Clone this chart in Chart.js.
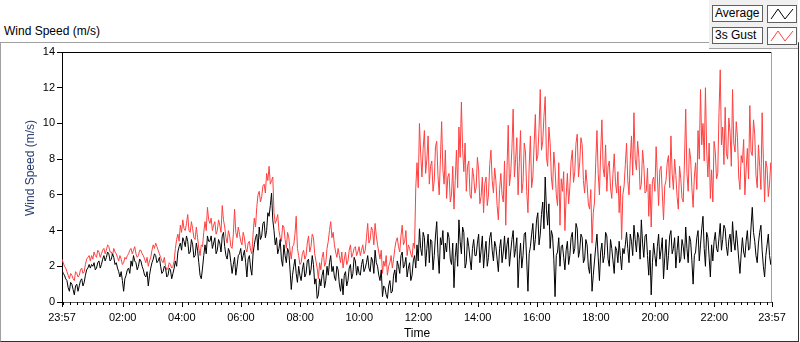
<!DOCTYPE html>
<html>
<head>
<meta charset="utf-8">
<script src="https://cdn.jsdelivr.net/npm/chart.js@4.4.0/dist/chart.umd.min.js"></script>
<style>
  body { margin: 0; width: 800px; height: 342px; background: #fff; position: relative; overflow: hidden;
         font-family: "Liberation Sans", Arial, sans-serif; }
  #frame { position: absolute; left: 0; top: 42px; width: 799px; height: 300px; box-sizing: border-box;
           border-top: 1px solid #a0a0a0; border-left: 1px solid #a0a0a0;
           border-right: 1px solid #303030; border-bottom: 1px solid #303030; }
  #title { position: absolute; left: 4px; top: 24px; font-size: 12px; color: #000; }
  #ytitle { position: absolute; left: 30px; top: 168px; font-size: 12px; color: #24396e; white-space: nowrap;
            transform: translate(-50%, -50%) rotate(-90deg); z-index: 2; }
  #legend { position: absolute; left: 709px; top: 0; width: 89px; height: 49px; background: #f0f0f0;
            border-bottom: 1px solid #a0a0a0; box-sizing: border-box; }
  .lg-name { position: absolute; left: 3px; width: 51px; height: 17px; box-sizing: border-box;
             border: 1px solid #606060; background: #fcfcfc; font-size: 12px; line-height: 15px; padding-left: 2px; }
  .lg-swatch { position: absolute; left: 58px; width: 30px; height: 18px; box-sizing: border-box;
               border: 1px solid #606060; background: #fff; }
  canvas { position: absolute; left: 0; top: 0; }
</style>
</head>
<body>
<div id="title">Wind Speed (m/s)</div>
<div id="frame"></div>
<div id="ytitle">Wind Speed (m/s)</div>
<div id="legend">
  <div class="lg-name" style="top:5px">Average</div>
  <div class="lg-swatch" style="top:5px"><svg width="28" height="16"><polyline points="3,13 10,3 17,13 25,3" fill="none" stroke="#000" stroke-width="1"/></svg></div>
  <div class="lg-name" style="top:27px">3s Gust</div>
  <div class="lg-swatch" style="top:27px"><svg width="28" height="16"><polyline points="3,13 10,3 17,13 25,3" fill="none" stroke="#ff4040" stroke-width="1"/></svg></div>
</div>
<canvas id="chart" width="800" height="342"></canvas>
<script>
// 2.5-minute samples from 23:57 to 23:57 next day, one row per hour
const avgSpeed = [
  1.8,1.6, 1.5,1.3, 1.2,0.8, 0.6,1.1, 1.0,0.7, 0.4,0.9, 1.0,0.6, 0.9,1.2, 1.3,0.9, 1.1,1.5, 1.8,1.9, 2.1,1.9,
  2.1,2.0, 2.2,1.8, 1.9,2.2, 2.3,1.9, 2.1,2.4, 2.6,2.3, 2.5,2.8, 2.7,2.3, 2.4,2.7, 2.5,2.1, 2.2,1.9, 1.7,1.4,
  1.7,1.2, 0.6,1.3, 1.5,1.8, 1.9,1.6, 2.3,2.0, 2.6,2.3, 2.2,1.8, 2.0,2.4, 2.3,2.0, 1.8,1.5, 1.4,1.7, 0.9,1.5,
  1.9,2.2, 2.4,2.7, 2.6,2.2, 2.3,2.5, 2.0,1.6, 1.7,2.0, 1.9,1.4, 1.5,1.9, 1.8,1.3, 1.6,1.9, 2.3,2.0, 2.8,3.1,
  3.3,2.9, 3.6,3.4, 3.1,3.7, 3.4,2.7, 2.8,3.5, 3.2,2.5, 2.6,3.3, 2.9,2.2, 1.5,1.3, 1.9,2.6, 3.2,2.7, 3.7,3.4,
  3.4,3.7, 3.0,3.3, 3.6,2.7, 2.9,3.5, 3.3,2.8, 3.7,3.9, 3.1,2.6, 2.4,3.0, 2.8,2.2, 1.6,2.1, 2.5,1.5, 2.0,2.6,
  2.7,3.0, 2.3,2.6, 2.9,2.2, 1.4,2.4, 2.6,1.9, 1.5,2.7, 3.2,3.6, 3.8,2.9, 4.2,3.5, 3.7,4.4, 4.5,3.6, 4.0,5.0,
  4.8,5.4, 6.1,4.6, 4.0,3.2, 3.6,2.7, 3.0,3.5, 2.4,2.0, 3.2,2.6, 2.2,3.0, 2.8,1.8, 0.7,1.5, 2.0,2.4, 1.6,1.1,
  2.0,1.5, 1.2,1.8, 2.2,1.4, 1.6,2.3, 2.4,1.5, 1.8,2.6, 2.1,1.0, 1.3,0.2, 0.4,1.3, 0.9,1.5, 1.8,0.8, 1.2,2.0,
  1.5,2.2, 2.6,1.7, 2.0,1.4, 1.2,2.0, 1.8,1.0, 0.6,1.3, 0.4,1.5, 1.7,0.9, 1.2,1.9, 2.1,1.3, 1.6,2.5, 2.3,1.5,
  2.0,1.6, 1.5,2.1, 2.4,1.7, 1.9,2.2, 2.6,1.9, 1.7,2.5, 2.3,1.6, 2.9,2.2, 2.0,1.5, 1.2,1.8, 0.3,0.9, 0.8,0.4,
  0.2,0.9, 1.2,0.5, 0.6,1.5, 1.8,1.1, 2.3,2.0, 1.6,2.6, 2.8,1.9, 2.1,2.5, 1.4,1.9, 2.2,1.2, 1.5,2.3, 2.6,1.9,
  3.2,2.3, 4.1,3.0, 2.6,3.9, 3.6,2.0, 3.0,3.8, 2.2,3.5, 3.4,1.8, 2.6,3.7, 4.5,2.7, 1.6,3.6, 3.2,4.0, 2.4,3.3,
  2.8,3.9, 3.6,2.4, 2.1,3.3, 0.8,2.5, 3.3,2.0, 4.6,3.4, 2.7,4.2, 3.9,1.9, 2.2,3.6, 3.1,2.4, 1.8,3.0, 3.5,2.6,
  2.6,3.3, 3.8,2.2, 2.9,3.7, 1.9,2.8, 3.4,2.0, 2.5,3.6, 3.9,2.9, 2.3,3.4, 3.1,2.4, 1.7,3.0, 3.5,2.2, 2.8,3.7,
  2.4,3.2, 3.6,2.0, 2.8,3.5, 4.0,2.5, 3.0,3.6, 0.8,2.4, 3.3,1.9, 2.6,3.8, 3.9,2.3, 0.6,2.7, 3.1,3.8, 4.4,2.9,
  3.5,4.6, 5.0,3.2, 3.8,4.9, 5.6,4.1, 7.0,5.2, 4.3,5.5, 3.0,4.0, 3.7,2.4, 0.3,2.6, 2.8,3.6, 2.0,3.1, 3.2,2.5,
  1.8,2.9, 3.4,2.1, 2.6,3.6, 3.9,2.7, 3.0,4.4, 4.1,2.5, 2.9,3.8, 3.6,2.2, 2.4,3.5, 3.2,2.0, 1.6,2.7, 0.6,1.5,
  2.3,3.1, 3.8,2.5, 1.2,2.8, 3.3,2.2, 2.6,3.9, 3.7,2.4, 2.0,3.5, 3.0,2.3, 1.6,3.1, 2.9,2.2, 3.4,2.6, 1.8,3.0,
  2.7,3.2, 3.9,3.0, 2.2,3.8, 3.4,2.6, 4.3,3.5, 2.8,3.9, 3.6,2.4, 4.6,3.3, 2.5,3.7, 3.8,2.6, 1.5,2.9, 0.4,2.2,
  3.3,2.6, 2.0,3.1, 3.8,2.4, 2.9,3.6, 1.3,2.5, 3.5,1.8, 2.6,3.7, 4.0,2.7, 3.0,3.6, 1.9,2.9, 3.7,2.2, 2.4,3.5,
  3.1,2.4, 4.2,3.0, 2.2,3.7, 3.4,2.3, 1.0,2.6, 2.8,3.6, 4.0,2.3, 3.2,4.1, 4.8,3.0, 2.0,3.9, 3.6,2.5, 1.4,3.2,
  2.3,3.4, 3.9,3.0, 2.8,3.6, 4.4,2.9, 3.5,4.3, 4.1,3.1, 2.6,3.5, 3.8,2.8, 4.5,3.4, 2.9,4.0, 3.3,2.4, 1.6,2.7,
  3.6,2.8, 2.5,3.4, 4.0,2.9, 3.0,4.2, 5.3,3.9, 3.4,2.6, 2.2,3.3, 3.9,4.3, 2.9,2.0, 1.4,2.6, 3.2,3.8, 2.6,2.1,
  2.8
];
const gustSpeed = [
  2.4,2.2, 2.0,1.9, 1.7,1.5, 1.3,1.6, 1.5,1.3, 1.2,1.7, 1.6,1.4, 1.5,1.8, 1.9,1.6, 1.7,2.1, 2.4,2.5, 2.6,2.3,
  2.6,2.4, 2.8,2.6, 2.5,2.9, 2.8,2.5, 2.7,2.9, 3.0,2.7, 2.9,3.2, 3.1,2.8, 2.8,2.6, 3.0,2.8, 2.7,2.5, 2.3,2.6,
  2.4,2.1, 2.2,2.5, 2.4,2.6, 2.7,2.9, 3.0,2.7, 2.9,3.1, 2.7,2.5, 2.6,2.9, 2.9,2.7, 2.6,2.4, 2.2,2.5, 2.0,2.3,
  2.5,2.9, 3.2,3.0, 3.3,3.1, 2.9,2.7, 2.5,2.3, 2.2,2.5, 2.0,1.8, 1.9,2.2, 2.1,1.9, 2.0,2.3, 3.0,3.5, 3.8,3.4,
  4.3,3.9, 4.6,4.1, 4.0,4.4, 4.9,4.0, 3.9,4.5, 4.1,3.6, 3.5,4.2, 3.6,3.0, 2.6,3.2, 3.1,3.9, 4.5,4.0, 5.3,4.6,
  4.4,4.7, 4.0,4.3, 4.5,3.8, 4.0,4.6, 4.3,3.9, 5.4,4.6, 4.2,3.6, 3.3,4.0, 3.7,3.1, 3.0,3.8, 5.2,3.9, 3.6,4.2,
  3.8,3.4, 3.2,3.9, 3.6,3.0, 2.8,3.3, 3.4,2.9, 2.7,3.8, 4.7,4.2, 5.3,6.0, 6.2,5.6, 5.9,6.5, 6.6,6.1, 7.2,6.8,
  7.6,6.6, 6.8,7.0, 5.0,4.4, 4.6,4.9, 4.0,3.6, 3.4,4.3, 4.2,3.5, 3.0,3.9, 3.6,2.9, 2.4,3.1, 3.2,3.8, 4.8,3.0,
  2.6,2.1, 2.2,2.7, 2.9,2.4, 2.6,3.3, 3.7,2.8, 3.1,3.8, 3.6,2.7, 2.3,1.9, 1.3,2.2, 1.8,2.5, 2.8,2.0, 2.2,3.0,
  3.4,4.0, 4.5,3.6, 3.9,3.2, 2.8,2.5, 3.0,2.6, 2.2,2.8, 1.9,2.4, 2.8,2.1, 2.3,2.9, 3.2,2.5, 2.7,3.0, 3.1,2.6,
  2.8,3.1, 2.6,2.9, 3.2,2.7, 2.9,3.6, 4.4,3.3, 3.5,4.2, 4.0,3.2, 4.4,3.7, 3.2,2.8, 2.4,2.9, 1.6,2.3, 2.0,2.6,
  1.5,2.0, 2.2,2.6, 1.9,2.4, 3.0,3.4, 3.6,3.1, 2.8,3.7, 4.3,3.2, 3.4,4.0, 2.6,3.2, 3.0,2.7, 2.5,3.3, 3.0,6.4,
  7.8,6.4, 10.0,8.3, 7.0,8.6, 9.6,7.2, 8.0,9.3, 6.6,7.6, 7.9,6.2, 6.8,8.7, 9.0,7.1, 6.0,8.0, 10.1,7.4, 6.6,8.5,
  5.8,7.0, 7.2,5.6, 6.0,7.6, 5.2,6.8, 8.5,6.4, 9.8,8.1, 11.2,8.6, 7.3,8.9, 6.2,7.6, 7.9,6.0, 5.8,7.5, 7.0,6.1,
  6.4,8.1, 7.4,5.5, 5.9,7.0, 5.0,6.6, 7.0,5.4, 6.0,7.7, 8.5,6.8, 6.1,7.5, 6.8,5.4, 4.6,6.3, 7.2,6.0, 5.6,7.9,
  4.3,7.4, 9.9,6.5, 7.2,8.6, 10.8,7.0, 8.0,9.2, 6.0,7.8, 9.6,6.1, 6.7,8.9, 8.4,6.2, 5.0,7.6, 9.3,6.4, 7.0,8.8,
  10.5,7.9, 8.2,9.7, 11.9,8.5, 9.0,10.4, 11.5,8.1, 7.6,9.8, 8.9,7.0, 6.3,8.4, 7.5,6.0, 5.4,7.8, 4.3,6.9, 6.2,7.3,
  4.0,5.9, 7.2,5.5, 6.4,7.9, 8.5,6.7, 7.3,8.9, 9.4,7.0, 7.8,9.2, 8.8,6.8, 6.1,7.4, 6.6,5.5, 5.2,6.3, 3.3,5.0,
  5.6,7.8, 9.6,7.2, 6.0,8.4, 10.2,7.5, 7.0,8.8, 6.2,7.6, 7.9,6.4, 5.8,7.2, 8.3,6.7, 6.1,7.3, 5.0,6.5, 3.5,6.0,
  6.5,7.7, 8.9,6.8, 6.0,7.9, 9.3,7.1, 10.6,8.0, 7.4,9.0, 8.1,6.3, 6.6,8.5, 7.7,6.1, 6.2,7.5, 4.8,6.6, 4.2,6.8,
  7.0,6.2, 8.7,7.0, 5.4,7.4, 7.6,6.1, 4.6,6.5, 6.8,7.8, 8.2,6.4, 9.3,7.2, 6.3,8.0, 7.1,5.9, 5.2,7.6, 6.9,5.8,
  5.6,7.9, 10.8,7.2, 6.2,8.6, 8.0,6.4, 5.3,7.0, 7.8,6.3, 9.6,8.0, 11.9,8.8, 10.0,7.9, 12.0,8.5, 7.0,8.9, 5.8,7.4,
  5.6,9.0, 8.4,6.9, 7.2,10.6, 13.0,8.8, 9.8,7.7, 10.9,8.3, 8.0,10.3, 9.5,7.6, 11.9,8.9, 8.4,10.1, 9.2,7.0, 6.3,8.2,
  7.8,9.1, 6.0,7.4, 8.6,6.9, 11.0,8.4, 8.2,10.2, 9.4,7.1, 6.4,8.8, 7.6,6.3, 10.6,8.0, 5.6,7.9, 7.5,5.9, 6.6,7.8,
  7.0
];
// minutes since 23:57
const minutes = avgSpeed.map((_, i) => i * 2.5);

const majorTicks = [0, 123, 243, 363, 483, 603, 723, 843, 963, 1083, 1203, 1323, 1440];
const tickLabels = ['23:57', '02:00', '04:00', '06:00', '08:00', '10:00', '12:00',
                    '14:00', '16:00', '18:00', '20:00', '22:00', '23:57'];
const yTicks = [0, 2, 4, 6, 8, 10, 12, 14];

// minor ticks every 40/3 min, starting at 00:00
const minorTicks = [];
for (let m = 3; m < 1440; m += 40 / 3) minorTicks.push(m);
const allTicks = [0, ...minorTicks, 1440];

const plotFrame = {
  id: 'plotFrame',
  afterDraw(chart) {
    const { ctx, chartArea: a, scales: { x } } = chart;
    ctx.save();
    ctx.lineWidth = 1;
    ctx.strokeStyle = '#000';
    x.ticks.forEach(t => {
      const px = Math.round(x.getPixelForValue(t.value)) + 0.5;
      const len = majorTicks.some(m => Math.abs(m - t.value) < 0.5) ? 5 : 3;
      ctx.beginPath();
      ctx.moveTo(px, a.bottom);
      ctx.lineTo(px, a.bottom + len);
      ctx.stroke();
    });
    ctx.beginPath();
    ctx.moveTo(a.left, a.top + 0.5);
    ctx.lineTo(a.right, a.top + 0.5);
    ctx.stroke();
    ctx.strokeStyle = '#a0a0a0';
    ctx.beginPath();
    ctx.moveTo(a.right - 0.5, a.top);
    ctx.lineTo(a.right - 0.5, a.bottom);
    ctx.stroke();
    ctx.restore();
  }
};

new Chart(document.getElementById('chart'), {
  type: 'line',
  data: {
    labels: minutes,
    datasets: [
      { label: 'Average', data: avgSpeed, borderColor: '#000', borderWidth: 1, pointRadius: 0, order: 0 },
      { label: '3s Gust', data: gustSpeed, borderColor: '#ff4040', borderWidth: 1, pointRadius: 0, order: 1 },
    ],
  },
  options: {
    responsive: false,
    animation: false,
    layout: { padding: { top: 52, right: 28, left: 0, bottom: 0 } },
    plugins: { legend: { display: false }, tooltip: { enabled: false } },
    elements: { line: { tension: 0 } },
    scales: {
      x: {
        type: 'linear', min: 0, max: 1440,
        afterFit: s => { s.height = 40; },
        afterBuildTicks: s => { s.ticks = allTicks.map(v => ({ value: v })); },
        grid: { drawOnChartArea: false, drawTicks: false },
        border: { color: '#606060' },
        ticks: {
          autoSkip: false, maxRotation: 0, padding: 9, color: '#000',
          font: { family: 'Liberation Sans', size: 11 },
          callback: v => {
            const i = majorTicks.findIndex(m => Math.abs(m - v) < 0.5);
            return i >= 0 ? tickLabels[i] : '';
          },
        },
        title: { display: true, text: 'Time', color: '#000', font: { family: 'Liberation Sans', size: 12 },
                 padding: { top: 0, bottom: 1 } },
      },
      y: {
        min: 0, max: 14,
        afterFit: s => { s.width = 62; },
        afterBuildTicks: s => { s.ticks = yTicks.map(v => ({ value: v })); },
        grid: { drawOnChartArea: false, drawTicks: true, tickLength: 5, tickColor: '#000' },
        border: { color: '#000' },
        ticks: { padding: 2, color: '#000', font: { family: 'Liberation Sans', size: 11 } },
      },
    },
  },
  plugins: [plotFrame],
});
</script>
</body>
</html>
